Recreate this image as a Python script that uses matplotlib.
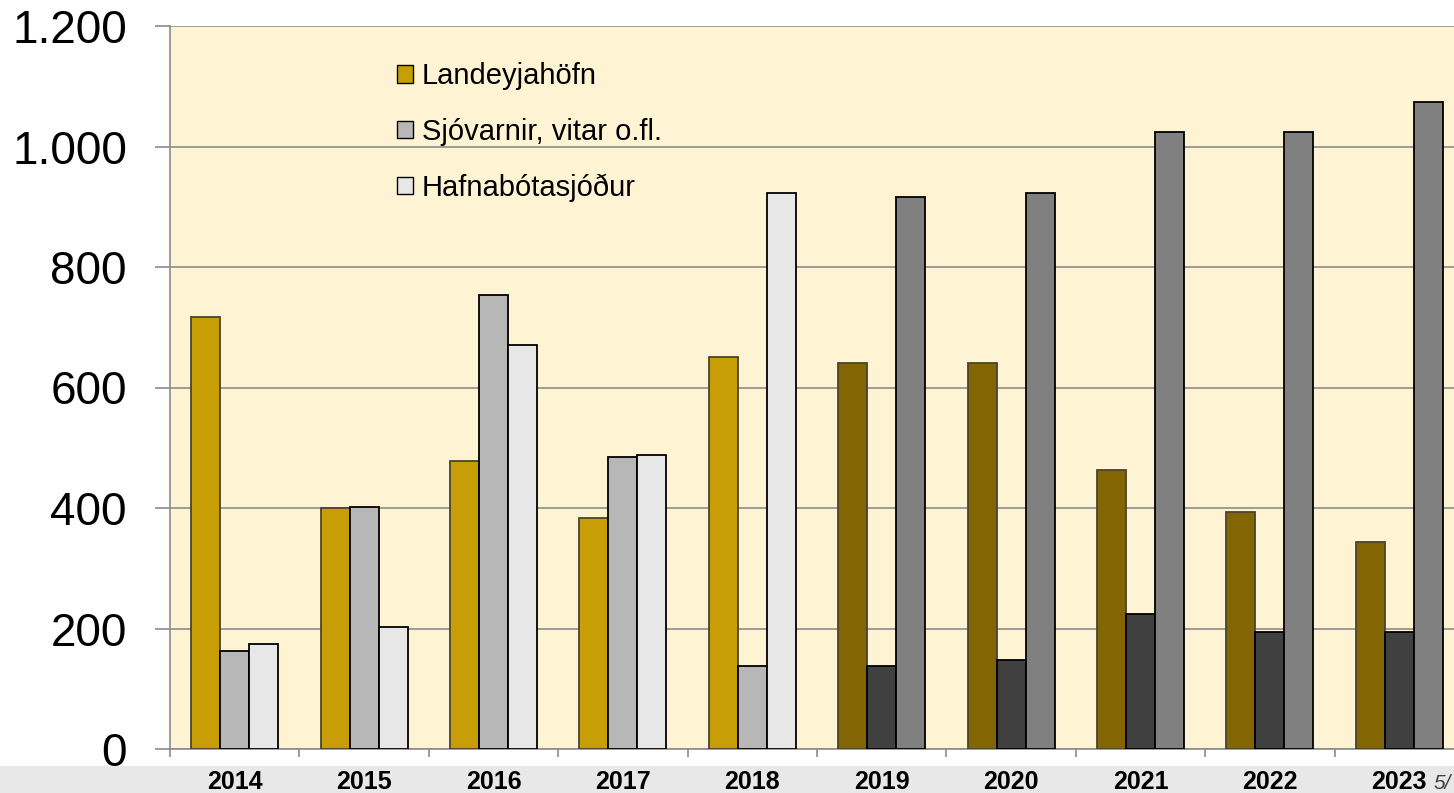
import numpy as np
import matplotlib.pyplot as plt
from matplotlib.patches import Patch, Rectangle
from matplotlib.ticker import FuncFormatter

plt.rcParams['font.family'] = ['Liberation Sans', 'DejaVu Sans']

years = ['2014', '2015', '2016', '2017', '2018', '2019', '2020', '2021', '2022', '2023']
labels = ['Landeyjahöfn', 'Sjóvarnir, vitar o.fl.', 'Hafnabótasjóður']
landeyjahofn = [717, 400, 478, 384, 651, 641, 641, 463, 393, 344]
sjovarnir = [163, 402, 754, 485, 137, 137, 148, 224, 194, 194]
hafnabota = [175, 203, 670, 488, 923, 916, 923, 1024, 1024, 1074]

# colours change from 2019 on
early = ['#C89E06', '#B7B7B7', '#E7E7E7']
late = ['#836503', '#404040', '#808080']
edges = ['#4a4430', '#000000', '#000000']

fig = plt.figure(figsize=(14.54, 7.93), dpi=100)
ax = fig.add_axes([170 / 1454, 44 / 793, 1294 / 1454, 723 / 793])
ax.set_facecolor('#FEF3D2')

x = np.arange(len(years))
w = 0.224
for k, vals in enumerate([landeyjahofn, sjovarnir, hafnabota]):
    cols = [early[k] if int(y) < 2019 else late[k] for y in years]
    ax.bar(x + (k - 1) * w, vals, width=w, color=cols, edgecolor=edges[k],
           linewidth=1.3, zorder=3)

ax.set_xlim(-0.5, len(years) - 0.5)
ax.set_ylim(0, 1200)
ax.set_yticks(range(0, 1201, 200))
ax.yaxis.set_major_formatter(FuncFormatter(lambda v, p: f'{int(v):,}'.replace(',', '.')))
ax.grid(axis='y', color='#8c8c8c', linewidth=1.2, zorder=1)

ax.set_xticks(np.arange(-0.5, len(years), 1.0))
ax.set_xticklabels([])
ax.set_xticks(x, minor=True)
ax.set_xticklabels(years, minor=True, fontsize=18, fontweight='bold')
ax.tick_params(axis='x', which='major', length=6, width=1.2, color='#8c8c8c')
ax.tick_params(axis='x', which='minor', length=0, pad=15)
ax.tick_params(axis='y', length=11, width=1.2, color='#8c8c8c', labelsize=33, pad=20)

for s in ['top', 'right']:
    ax.spines[s].set_visible(False)
for s in ['left', 'bottom']:
    ax.spines[s].set_color('#8c8c8c')
    ax.spines[s].set_linewidth(1.2)

handles = [Patch(facecolor=c, edgecolor='#000000', linewidth=1.0) for c in early]
ax.legend(handles, labels, loc='upper left', bbox_to_anchor=(0.1754, 0.95),
          frameon=False, borderaxespad=0, borderpad=0, fontsize=21,
          handlelength=0.55, handleheight=0.55, handletextpad=0.3,
          labelspacing=0.95)

fig.add_artist(Rectangle((0, 0), 1, 27 / 793, transform=fig.transFigure,
                         facecolor='#E8E8E8', edgecolor='none', zorder=-1))
fig.text(1434 / 1454, 0.0, '5/', fontsize=15, style='italic', color='#404040',
         va='bottom', ha='left')

fig.savefig('out.png', dpi=100)
